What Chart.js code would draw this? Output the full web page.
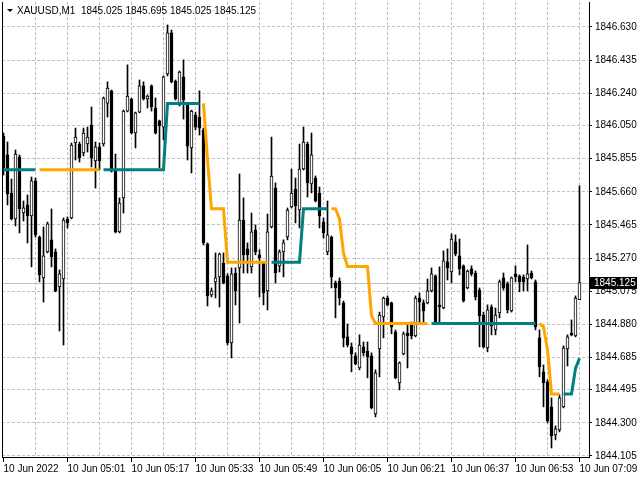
<!DOCTYPE html>
<html>
<head>
<meta charset="utf-8">
<script src="https://cdn.jsdelivr.net/npm/chart.js@4.4.0/dist/chart.umd.min.js"></script>
<style>
  html, body { margin: 0; padding: 0; background: #fff; }
  canvas { display: block; }
</style>
</head>
<body>
<canvas id="chart" width="640" height="480"></canvas>
<script>
// XAUUSD M1 bars, 10 Jun 2022 04:45 .. 07:09 (one bar per minute)
const opens = [
  1845.988, 1845.877, 1845.653, 1845.500, 1845.865, 1845.535, 1845.583, 1845.518, 1845.724, 1845.394,
  1845.153, 1845.306, 1845.377, 1845.306, 1845.100, 1845.147, 1845.500, 1845.506, 1845.947, 1845.941,
  1845.888, 1845.941, 1846.053, 1845.841, 1845.924, 1845.941, 1846.182, 1846.254, 1845.782, 1845.424,
  1845.624, 1846.135, 1846.206, 1846.006, 1846.129, 1846.283, 1846.206, 1846.283, 1846.153, 1846.077,
  1846.041, 1846.353, 1846.595, 1846.312, 1846.171, 1846.336, 1846.177, 1845.918, 1846.112, 1846.100,
  1846.024, 1845.353, 1845.053, 1845.130, 1845.159, 1845.241, 1845.165, 1844.770, 1845.182, 1845.212,
  1845.494, 1845.324, 1845.218, 1845.435, 1845.289, 1845.241, 1845.077, 1845.453, 1845.682, 1845.224,
  1845.306, 1845.394, 1845.571, 1845.676, 1845.553, 1845.794, 1845.941, 1845.706, 1845.741, 1845.653,
  1845.482, 1845.306, 1845.394, 1845.124, 1845.135, 1845.006, 1844.806, 1844.747, 1844.694, 1844.623,
  1844.747, 1844.723, 1844.694, 1844.353, 1844.735, 1844.924, 1845.035, 1845.006, 1844.835, 1844.535,
  1844.706, 1844.829, 1844.882, 1844.812, 1845.035, 1845.006, 1845.006, 1845.077, 1845.165, 1844.994,
  1844.976, 1845.247, 1845.188, 1845.365, 1845.283, 1845.224, 1845.094, 1845.206, 1845.182, 1845.082,
  1844.935, 1844.741, 1844.982, 1844.847, 1844.947, 1845.153, 1845.118, 1844.959, 1845.177, 1845.165,
  1845.159, 1845.147, 1845.182, 1845.130, 1844.800, 1844.600, 1844.541, 1844.394, 1844.229, 1844.259,
  1844.394, 1844.735, 1844.829, 1844.812, 1845.025
];
const highs = [
  1846.006, 1845.953, 1845.735, 1845.906, 1845.877, 1845.606, 1845.641, 1845.747, 1845.741, 1845.400,
  1845.453, 1845.482, 1845.559, 1845.324, 1845.200, 1845.506, 1845.512, 1845.947, 1846.035, 1845.953,
  1846.035, 1846.041, 1846.159, 1845.953, 1845.947, 1846.218, 1846.307, 1846.259, 1845.882, 1845.624,
  1846.141, 1846.407, 1846.212, 1846.129, 1846.318, 1846.307, 1846.230, 1846.289, 1846.212, 1846.082,
  1846.342, 1846.642, 1846.612, 1846.318, 1846.371, 1846.436, 1846.182, 1846.141, 1846.129, 1846.254,
  1846.035, 1845.359, 1845.094, 1845.300, 1845.300, 1845.300, 1845.177, 1845.212, 1845.212, 1845.765,
  1845.624, 1845.359, 1845.535, 1845.465, 1845.318, 1845.247, 1845.529, 1845.982, 1845.712, 1845.318,
  1845.377, 1845.565, 1845.794, 1845.741, 1845.941, 1846.041, 1845.953, 1846.006, 1845.753, 1845.688,
  1845.506, 1845.606, 1845.400, 1845.135, 1845.153, 1845.017, 1844.882, 1844.770, 1844.712, 1844.818,
  1844.776, 1844.776, 1844.712, 1844.612, 1844.952, 1845.041, 1845.047, 1845.011, 1844.847, 1844.659,
  1844.835, 1844.888, 1844.894, 1845.047, 1845.065, 1845.023, 1845.147, 1845.212, 1845.171, 1845.218,
  1845.312, 1845.324, 1845.412, 1845.406, 1845.382, 1845.230, 1845.200, 1845.224, 1845.194, 1845.094,
  1844.952, 1844.994, 1844.994, 1844.976, 1845.141, 1845.182, 1845.130, 1845.159, 1845.224, 1845.171,
  1845.171, 1845.347, 1845.194, 1845.141, 1844.847, 1844.641, 1844.553, 1844.447, 1844.282, 1844.465,
  1844.753, 1844.818, 1844.906, 1845.047, 1845.695
];
const lows = [
  1845.759, 1845.583, 1845.494, 1845.459, 1845.418, 1845.488, 1845.359, 1845.218, 1845.394, 1845.130,
  1845.011, 1845.300, 1845.218, 1845.071, 1844.841, 1844.758, 1845.447, 1845.500, 1845.847, 1845.835,
  1845.871, 1845.894, 1845.806, 1845.682, 1845.788, 1845.929, 1846.100, 1845.776, 1845.418, 1845.418,
  1845.535, 1846.130, 1846.000, 1845.918, 1846.125, 1846.200, 1846.153, 1846.135, 1846.000, 1845.800,
  1845.965, 1846.342, 1846.301, 1846.200, 1846.165, 1846.088, 1845.847, 1845.771, 1846.024, 1845.994,
  1845.347, 1844.988, 1845.041, 1845.035, 1844.982, 1845.118, 1844.758, 1844.682, 1844.994, 1844.888,
  1845.182, 1845.182, 1845.182, 1845.289, 1845.041, 1844.994, 1844.965, 1845.447, 1845.124, 1845.188,
  1845.159, 1845.377, 1845.565, 1845.477, 1845.447, 1845.788, 1845.629, 1845.653, 1845.600, 1845.447,
  1845.388, 1845.289, 1845.094, 1844.918, 1844.994, 1844.747, 1844.747, 1844.600, 1844.641, 1844.612,
  1844.694, 1844.565, 1844.382, 1844.335, 1844.571, 1844.800, 1844.988, 1844.824, 1844.559, 1844.494,
  1844.700, 1844.623, 1844.794, 1844.806, 1844.894, 1844.894, 1845.000, 1845.071, 1844.888, 1844.888,
  1844.971, 1845.141, 1845.124, 1845.283, 1845.171, 1845.011, 1845.088, 1845.165, 1845.023, 1844.747,
  1844.741, 1844.718, 1844.818, 1844.818, 1844.918, 1845.082, 1844.947, 1844.952, 1845.130, 1845.071,
  1845.077, 1845.077, 1845.147, 1844.847, 1844.571, 1844.394, 1844.300, 1844.152, 1844.200, 1844.247,
  1844.388, 1844.635, 1844.812, 1844.806, 1845.025
];
const closes = [
  1845.800, 1845.647, 1845.500, 1845.882, 1845.559, 1845.565, 1845.518, 1845.724, 1845.406, 1845.171,
  1845.283, 1845.471, 1845.277, 1845.077, 1845.177, 1845.494, 1845.477, 1845.935, 1845.982, 1845.859,
  1846.006, 1845.982, 1845.859, 1845.924, 1845.841, 1846.212, 1846.271, 1845.782, 1845.424, 1845.594,
  1846.135, 1846.224, 1846.006, 1846.124, 1846.283, 1846.206, 1846.224, 1846.159, 1846.006, 1846.047,
  1846.336, 1846.595, 1846.307, 1846.206, 1846.365, 1846.200, 1845.929, 1846.135, 1846.041, 1846.035,
  1845.359, 1845.047, 1845.077, 1845.153, 1845.294, 1845.124, 1844.770, 1845.177, 1845.077, 1845.494,
  1845.289, 1845.289, 1845.424, 1845.306, 1845.271, 1845.065, 1845.424, 1845.753, 1845.182, 1845.306,
  1845.359, 1845.553, 1845.653, 1845.577, 1845.794, 1845.953, 1845.712, 1845.877, 1845.606, 1845.518,
  1845.418, 1845.406, 1845.159, 1845.094, 1845.035, 1844.800, 1844.758, 1844.706, 1844.647, 1844.758,
  1844.712, 1844.688, 1844.388, 1844.594, 1844.935, 1845.035, 1844.994, 1844.865, 1844.565, 1844.653,
  1844.824, 1844.812, 1844.812, 1845.035, 1845.011, 1844.959, 1845.077, 1845.177, 1844.894, 1844.982,
  1845.253, 1845.212, 1845.382, 1845.294, 1845.206, 1845.017, 1845.194, 1845.177, 1845.041, 1844.929,
  1844.747, 1844.965, 1844.871, 1844.935, 1845.130, 1845.094, 1844.965, 1845.153, 1845.159, 1845.130,
  1845.130, 1845.177, 1845.153, 1844.865, 1844.629, 1844.535, 1844.312, 1844.223, 1844.265, 1844.447,
  1844.741, 1844.806, 1844.818, 1845.035, 1845.125
];

// step indicator: level per bar and its direction (1 = teal/up, -1 = orange/down)
const lineValues = [
  1845.79, 1845.79, 1845.79, 1845.79, 1845.79, 1845.79, 1845.79, 1845.79, 1845.79, 1845.79,
  1845.79, 1845.79, 1845.79, 1845.79, 1845.79, 1845.79, 1845.79, 1845.79, 1845.79, 1845.79,
  1845.79, 1845.79, 1845.79, 1845.79, 1845.79, 1845.79, 1845.79, 1845.79, 1845.79, 1845.79,
  1845.79, 1845.79, 1845.79, 1845.79, 1845.79, 1845.79, 1845.79, 1845.79, 1845.79, 1845.79,
  1845.79, 1846.18, 1846.18, 1846.18, 1846.18, 1846.18, 1846.18, 1846.18, 1846.18, 1846.18,
  1846.18, 1845.85, 1845.56, 1845.56, 1845.56, 1845.56, 1845.245, 1845.245, 1845.245, 1845.245,
  1845.245, 1845.245, 1845.245, 1845.245, 1845.245, 1845.245, 1845.245, 1845.245, 1845.245, 1845.245,
  1845.245, 1845.245, 1845.245, 1845.245, 1845.245, 1845.56, 1845.56, 1845.56, 1845.56, 1845.56,
  1845.56, 1845.56, 1845.56, 1845.56, 1845.50, 1845.30, 1845.22, 1845.22, 1845.22, 1845.22,
  1845.22, 1845.22, 1844.93, 1844.885, 1844.885, 1844.885, 1844.885, 1844.885, 1844.885, 1844.885,
  1844.885, 1844.885, 1844.885, 1844.885, 1844.885, 1844.885, 1844.885, 1844.885, 1844.885, 1844.885,
  1844.885, 1844.885, 1844.885, 1844.885, 1844.885, 1844.885, 1844.885, 1844.885, 1844.885, 1844.885,
  1844.885, 1844.885, 1844.885, 1844.885, 1844.885, 1844.885, 1844.885, 1844.885, 1844.885, 1844.885,
  1844.885, 1844.885, 1844.885, 1844.885, 1844.885, 1844.865, 1844.73, 1844.47, 1844.47, 1844.47,
  1844.47, 1844.47, 1844.47, 1844.62, 1844.68
];
const lineTrend = [
   1,  1,  1,  1,  1,  1,  1,  1,  1, -1,
  -1, -1, -1, -1, -1, -1, -1, -1, -1, -1,
  -1, -1, -1, -1, -1,  1,  1,  1,  1,  1,
   1,  1,  1,  1,  1,  1,  1,  1,  1,  1,
   1,  1,  1,  1,  1,  1,  1,  1,  1,  1,
  -1, -1, -1, -1, -1, -1, -1, -1, -1, -1,
  -1, -1, -1, -1, -1, -1, -1,  1,  1,  1,
   1,  1,  1,  1,  1,  1,  1,  1,  1,  1,
   1,  1, -1, -1, -1, -1, -1, -1, -1, -1,
  -1, -1, -1, -1, -1, -1, -1, -1, -1, -1,
  -1, -1, -1, -1, -1, -1, -1,  1,  1,  1,
   1,  1,  1,  1,  1,  1,  1,  1,  1,  1,
   1,  1,  1,  1,  1,  1,  1,  1,  1,  1,
   1,  1,  1,  1, -1, -1, -1, -1, -1, -1,
   1,  1,  1,  1,  1
];

const timeTickLabels = ['10 Jun 2022', '10 Jun 05:01', '10 Jun 05:17', '10 Jun 05:33', '10 Jun 05:49',
  '10 Jun 06:05', '10 Jun 06:21', '10 Jun 06:37', '10 Jun 06:53', '10 Jun 07:09'];
const priceTicks = [1846.630, 1846.435, 1846.240, 1846.050, 1845.855, 1845.660, 1845.465,
  1845.270, 1845.075, 1844.880, 1844.685, 1844.495, 1844.300, 1844.105];

const symbolName = 'XAUUSD,M1';
const FONT = "'Liberation Sans', Arial, sans-serif";
const FONT_SIZE = 10;

// build datasets
const bodies = opens.map((o, i) => ({ x: i, y: [o, closes[i]] }));
const wicks = lows.map((l, i) => ({ x: i, y: [l, highs[i]] }));
const bodyColors = opens.map((o, i) => closes[i] >= o ? '#ffffff' : '#000000');
const upLine = lineValues.map((v, i) => ({ x: i, y: lineTrend[i] > 0 ? v : null }));
const downLine = lineValues.map((v, i) => ({ x: i, y: lineTrend[i] < 0 ? v : null }));

const last = closes.length - 1;

// frame, bid line, header and price marker
const terminalPlugin = {
  id: 'terminal',
  beforeDatasetsDraw(chart) {
    const { ctx, chartArea } = chart;
    const y = Math.round(chart.scales.y.getPixelForValue(closes[last])) + 0.5;
    ctx.save();
    ctx.strokeStyle = '#c0c0c0';
    ctx.lineWidth = 1;
    ctx.beginPath();
    ctx.moveTo(chartArea.left, y);
    ctx.lineTo(chartArea.right, y);
    ctx.stroke();
    ctx.restore();
  },
  afterDraw(chart) {
    const { ctx, chartArea } = chart;
    ctx.save();
    // left frame line
    ctx.strokeStyle = '#000';
    ctx.lineWidth = 1;
    ctx.beginPath();
    ctx.moveTo(chartArea.left + 0.5, chartArea.top);
    ctx.lineTo(chartArea.left + 0.5, chartArea.bottom);
    ctx.stroke();

    // header
    ctx.fillStyle = '#000';
    ctx.beginPath();
    ctx.moveTo(7, 9);
    ctx.lineTo(13, 9);
    ctx.lineTo(10, 12);
    ctx.closePath();
    ctx.fill();
    ctx.font = FONT_SIZE + 'px ' + FONT;
    ctx.textBaseline = 'middle';
    ctx.textAlign = 'left';
    const head = symbolName + '  ' + [opens[last], highs[last], lows[last], closes[last]]
      .map(v => v.toFixed(3)).join(' ');
    ctx.fillText(head, 17, 11);

    // current price box
    const y = Math.round(chart.scales.y.getPixelForValue(closes[last]));
    ctx.fillStyle = '#000';
    ctx.fillRect(590, y - 6, 47, 12);
    ctx.fillStyle = '#fff';
    ctx.fillText(closes[last].toFixed(3), 594, y);
    ctx.restore();
  }
};

new Chart(document.getElementById('chart').getContext('2d'), {
  type: 'bar',
  data: {
    datasets: [
      { type: 'line', data: upLine, borderColor: '#008080', borderWidth: 3, pointRadius: 0,
        spanGaps: false, tension: 0, order: 0 },
      { type: 'line', data: downLine, borderColor: '#ffa500', borderWidth: 3, pointRadius: 0,
        spanGaps: false, tension: 0, order: 0 },
      { data: bodies, backgroundColor: bodyColors, borderColor: '#000', borderWidth: 1,
        borderSkipped: false, barThickness: 3, grouped: false, order: 1 },
      { data: wicks, backgroundColor: '#000', borderWidth: 0, barThickness: 1,
        grouped: false, order: 2 }
    ]
  },
  plugins: [terminalPlugin],
  options: {
    responsive: false,
    animation: false,
    devicePixelRatio: 1,
    events: [],
    layout: { padding: { left: 2, top: 2, right: 0, bottom: 0 } },
    font: { family: FONT, size: FONT_SIZE },
    color: '#000',
    plugins: { legend: { display: false }, tooltip: { enabled: false } },
    scales: {
      x: {
        type: 'linear',
        min: -0.375,
        max: 146.375,
        offset: false,
        afterBuildTicks(scale) {
          const t = [];
          for (let v = 0; v < opens.length; v += 8) t.push({ value: v });
          scale.ticks = t;
        },
        afterFit(scale) {
          scale.height = 23;
          scale.paddingLeft = 0;
          scale.paddingRight = 0;
        },
        grid: {
          color: c => (c.tick && c.tick.value === 0) ? 'rgba(0,0,0,0)' : '#c0c0c0',
          tickColor: c => (c.tick && c.tick.value % 16 === 0) ? '#000' : 'rgba(0,0,0,0)',
          tickLength: 5,
          tickBorderDash: [],
          offset: false
        },
        border: { display: true, color: '#000', width: 1, dash: [3, 2] },
        ticks: {
          autoSkip: false,
          maxRotation: 0,
          minRotation: 0,
          align: 'start',
          padding: 1,
          color: '#000',
          font: { family: FONT, size: FONT_SIZE },
          callback: v => v % 16 === 0 ? timeTickLabels[v / 16] : ''
        }
      },
      y: {
        type: 'linear',
        position: 'right',
        min: 1844.099,
        max: 1846.777,
        afterBuildTicks(scale) { scale.ticks = priceTicks.map(v => ({ value: v })); },
        afterFit(scale) {
          scale.width = 51;
          scale.paddingTop = 0;
          scale.paddingBottom = 0;
        },
        grid: { color: '#c0c0c0', tickColor: '#000', tickLength: 3, tickBorderDash: [] },
        border: { display: true, color: '#000', width: 1, dash: [3, 2] },
        ticks: {
          padding: 3,
          color: '#000',
          font: { family: FONT, size: FONT_SIZE },
          callback: v => v.toFixed(3)
        }
      }
    }
  }
});
</script>
</body>
</html>
